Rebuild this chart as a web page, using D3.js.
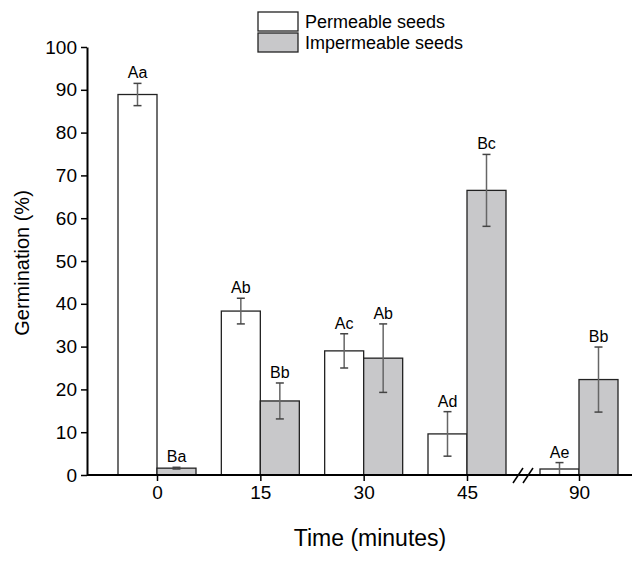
<!DOCTYPE html>
<html>
<head>
<meta charset="utf-8">
<script src="https://cdn.jsdelivr.net/npm/d3@7"></script>
<style>
  body { margin: 0; background: #fff; }
  svg { display: block; font-family: "Liberation Sans", Arial, sans-serif; }
</style>
</head>
<body>
<svg id="chart" width="644" height="574"></svg>
<script>
// data
var times = [0, 15, 30, 45, 90];
var permMean = [88.9, 38.3, 29.0, 9.6, 1.4];
var permErr = [2.6, 3.0, 4.0, 5.2, 1.5];
var impMean = [1.6, 17.3, 27.3, 66.5, 22.3];
var impErr = [0.2, 4.2, 8.0, 8.4, 7.6];
var permLetters = ["Aa", "Ab", "Ac", "Ad", "Ae"];
var impLetters = ["Ba", "Bb", "Ab", "Bc", "Bb"];
var yTicks = [0, 10, 20, 30, 40, 50, 60, 70, 80, 90, 100];
var seriesNames = ["Permeable seeds", "Impermeable seeds"];

var svg = d3.select("#chart");

// broken time axis: 45 -> 90 is squeezed
var x = d3.scaleLinear().domain([0, 45, 90]).range([157, 467, 579]);
var y = d3.scaleLinear().domain([0, 100]).range([475, 47]);
var barW = 39;
var axisLeft = 87, axisRight = 632;

var fills = ["#ffffff", "#c8c8ca"];

// build rows for both series
var rows = [];
times.forEach(function(t, i) {
  rows.push({ t: t, s: 0, mean: permMean[i], err: permErr[i], letter: permLetters[i] });
  rows.push({ t: t, s: 1, mean: impMean[i], err: impErr[i], letter: impLetters[i] });
});

function barX(d) { return d.s === 0 ? x(d.t) - barW : x(d.t); }

// bars
svg.append("g").selectAll("rect")
  .data(rows).enter().append("rect")
  .attr("x", barX)
  .attr("y", function(d) { return y(d.mean); })
  .attr("width", barW)
  .attr("height", function(d) { return y(0) - y(d.mean); })
  .attr("fill", function(d) { return fills[d.s]; })
  .attr("stroke", "#222")
  .attr("stroke-width", 1.3);

// error bars
var eb = svg.append("g").selectAll("g")
  .data(rows).enter().append("g")
  .attr("stroke", "#444")
  .attr("stroke-width", 1.5);

eb.append("line")
  .attr("x1", function(d) { return barX(d) + barW / 2; })
  .attr("x2", function(d) { return barX(d) + barW / 2; })
  .attr("y1", function(d) { return y(d.mean + d.err); })
  .attr("y2", function(d) { return y(Math.max(0, d.mean - d.err)); })
  .attr("stroke", "#666");

eb.append("line")
  .attr("x1", function(d) { return barX(d) + barW / 2 - 4; })
  .attr("x2", function(d) { return barX(d) + barW / 2 + 4; })
  .attr("y1", function(d) { return y(d.mean + d.err); })
  .attr("y2", function(d) { return y(d.mean + d.err); });

eb.append("line")
  .attr("x1", function(d) { return barX(d) + barW / 2 - 4; })
  .attr("x2", function(d) { return barX(d) + barW / 2 + 4; })
  .attr("y1", function(d) { return y(Math.max(0, d.mean - d.err)); })
  .attr("y2", function(d) { return y(Math.max(0, d.mean - d.err)); });

// letters above error bars
svg.append("g").selectAll("text")
  .data(rows).enter().append("text")
  .attr("x", function(d) { return barX(d) + barW / 2; })
  .attr("y", function(d) { return y(d.mean + d.err) - 5; })
  .attr("text-anchor", "middle")
  .attr("font-size", 16)
  .text(function(d) { return d.letter; });

// y axis
var yAxis = d3.axisLeft(y).tickValues(yTicks).tickSize(6).tickSizeOuter(0).tickPadding(4);
var gy = svg.append("g").attr("transform", "translate(" + axisLeft + ",0)").call(yAxis);
gy.select(".domain").attr("stroke", "#000").attr("stroke-width", 2);
gy.selectAll(".tick line").attr("stroke", "#000").attr("stroke-width", 1.5);
gy.selectAll(".tick text").attr("font-size", 19).attr("fill", "#000")
  .style("font-family", "Liberation Sans, Arial, sans-serif");

// x axis
var xAxis = d3.axisBottom(x).tickValues(times).tickSize(6).tickSizeOuter(0).tickPadding(5)
  .tickFormat(d3.format("d"));
var gx = svg.append("g").attr("transform", "translate(0," + y(0) + ")").call(xAxis);
gx.select(".domain").remove();
gx.append("line").attr("x1", axisLeft).attr("x2", axisRight)
  .attr("stroke", "#000").attr("stroke-width", 2);
gx.selectAll(".tick line").attr("stroke", "#000").attr("stroke-width", 1.5);
gx.selectAll(".tick text").attr("font-size", 19).attr("fill", "#000")
  .style("font-family", "Liberation Sans, Arial, sans-serif");

// axis break marks between 45 and 90
var brk = (x(45) + barW + x(90) - barW) / 2;
[-5, 5].forEach(function(o) {
  gx.append("line")
    .attr("x1", brk + o - 5).attr("y1", 8)
    .attr("x2", brk + o + 5).attr("y2", -7)
    .attr("stroke", "#000").attr("stroke-width", 1.5);
});

// axis titles
svg.append("text")
  .attr("transform", "translate(29," + ((y(0) + y(100)) / 2 + 2) + ") rotate(-90)")
  .attr("text-anchor", "middle")
  .attr("font-size", 20)
  .text("Germination (%)");

svg.append("text")
  .attr("x", 370).attr("y", 546)
  .attr("text-anchor", "middle")
  .attr("font-size", 23)
  .text("Time (minutes)");

// legend
var leg = svg.append("g").attr("transform", "translate(258,12)");
seriesNames.forEach(function(name, i) {
  leg.append("rect")
    .attr("x", 0).attr("y", i * 21)
    .attr("width", 40).attr("height", 19)
    .attr("fill", fills[i]).attr("stroke", "#222").attr("stroke-width", 1.3);
  leg.append("text")
    .attr("x", 47).attr("y", i * 21 + 16)
    .attr("font-size", 18)
    .text(name);
});
</script>
</body>
</html>
